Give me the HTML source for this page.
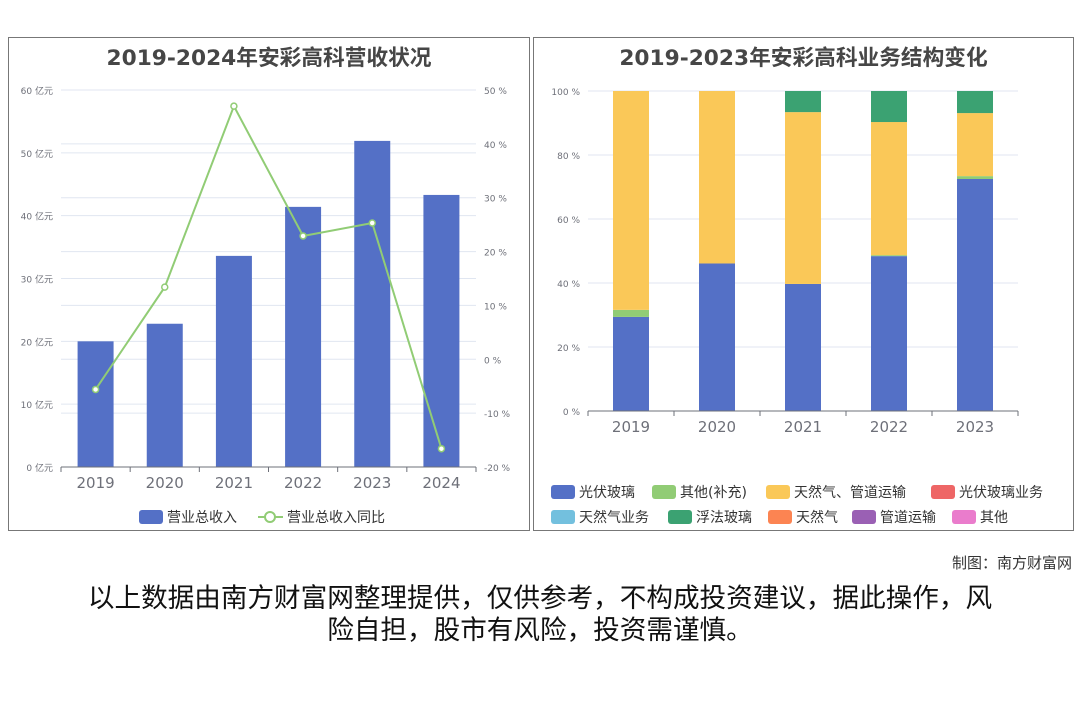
<!DOCTYPE html>
<html><head><meta charset="utf-8">
<style>
body{margin:0;width:1080px;height:720px;background:#fff;font-family:"Liberation Sans","Noto Sans CJK SC",sans-serif;overflow:hidden;position:relative}
.panel{position:absolute;border:1px solid #777;background:#fff}
.title{position:absolute;top:3px;left:0;right:0;text-align:center;font-weight:bold;font-size:21.7px;color:#464646;font-family:"DejaVu Sans","Noto Sans CJK SC",sans-serif}
svg{position:absolute;left:0;top:0}
.credit{position:absolute;right:8px;top:552px;font-size:15px;color:#333}
.disc{position:absolute;left:0;right:0;top:580px;text-align:center;font-size:26.6px;line-height:32px;color:#111;font-family:"Noto Sans CJK SC",sans-serif}
</style></head><body>
<div class="panel" style="left:8px;top:37px;width:520px;height:492px">
<div class="title">2019-2024年安彩高科营收状况</div>
</div>
<div class="panel" style="left:533px;top:37px;width:539px;height:492px">
<div class="title">2019-2023年安彩高科业务结构变化</div>
</div>
<svg id="chart" width="1080" height="720"></svg>
<div class="credit">制图：南方财富网</div>
<div class="disc">以上数据由南方财富网整理提供，仅供参考，不构成投资建议，据此操作，风<br>险自担，股市有风险，投资需谨慎。</div>
<script>
const years1=["2019","2020","2021","2022","2023","2024"];
const revenue=[20.0,22.8,33.6,41.4,51.9,43.3];
const growth=[-5.6,13.4,47.0,22.9,25.3,-16.6];
const leftTicks=[0,10,20,30,40,50,60];
const rightTicks=[-20,-10,0,10,20,30,40,50];
const years2=["2019","2020","2021","2022","2023"];
const seriesNames=["光伏玻璃","其他(补充)","天然气、管道运输","光伏玻璃业务","天然气业务","浮法玻璃","天然气","管道运输","其他"];
const sPV=[29.4,46.1,39.7,48.4,72.5];
const sOther=[2.2,0,0,0.3,0.9];
const sGas=[68.4,53.9,53.7,41.6,19.7];
const sFloat=[0,0,6.6,9.7,6.9];
const colors=["#5470c6","#91cc75","#fac858","#ee6666","#73c0de","#3ba272","#fc8452","#9a60b4","#ea7ccc"];
const svg=document.getElementById('chart');
const NS='http://www.w3.org/2000/svg';
function mk(tag,attrs,parent,name){const e=document.createElementNS(NS,tag);for(const k in attrs)e.setAttribute(k,attrs[k]);(parent||svg).appendChild(e);

return e;}
function txt(x,y,s,size,fill,anchor,name){const t=mk('text',{x:x,y:y,'font-size':size,fill:fill,'text-anchor':anchor||'middle','font-family':'DejaVu Sans, Noto Sans CJK SC, sans-serif'},svg,name);t.textContent=s;return t;}
const L={x0:61,x1:476,y0:467,y1:90};
const yL=v=>L.y0-(v/60)*(L.y0-L.y1);
const yR=v=>L.y0-((v+20)/70)*(L.y0-L.y1);
const cw=(L.x1-L.x0)/years1.length;
const xc=i=>L.x0+cw*(i+0.5);
leftTicks.forEach(t=>{mk('line',{x1:L.x0,x2:L.x1,y1:yL(t),y2:yL(t),stroke:'#e0e6f1'},svg,'left-grid-line');txt(L.x0-8,yL(t)+4,t+' 亿元',9,'#6e7079','end','left-y-tick');});
rightTicks.forEach(t=>{mk('line',{x1:L.x0,x2:L.x1,y1:yR(t),y2:yR(t),stroke:'#e0e6f1'},svg,'right-grid-line');txt(L.x1+8,yR(t)+4,t+' %',9,'#6e7079','start','right-y-tick');});
revenue.forEach((v,i)=>{mk('rect',{x:xc(i)-18,y:yL(v),width:36,height:L.y0-yL(v),fill:'#5470c6'},svg,'revenue-bar-'+years1[i]);});
mk('line',{x1:L.x0,x2:L.x1,y1:L.y0,y2:L.y0,stroke:'#6e7079'},svg,'left-x-axis');
years1.forEach((y,i)=>{mk('line',{x1:L.x0+cw*i,x2:L.x0+cw*i,y1:L.y0,y2:L.y0+5,stroke:'#6e7079'},svg,'x-tick');txt(xc(i),L.y0+21,y,15,'#6e7079','middle','x-label-'+y);});
mk('line',{x1:L.x0+cw*6,x2:L.x0+cw*6,y1:L.y0,y2:L.y0+5,stroke:'#6e7079'},svg,'x-tick');
mk('polyline',{points:growth.map((v,i)=>xc(i)+','+yR(v)).join(' '),fill:'none',stroke:'#91cc75','stroke-width':2},svg,'growth-line');
growth.forEach((v,i)=>mk('circle',{cx:xc(i),cy:yR(v),r:3,fill:'#fff',stroke:'#91cc75','stroke-width':1.5},svg,'growth-point-'+years1[i]));
mk('rect',{x:139,y:510,width:24,height:14,rx:3,fill:'#5470c6'},svg,'legend-revenue-swatch');
txt(167,522,'营业总收入',14,'#333','start','legend-revenue');
mk('line',{x1:258,x2:283,y1:517,y2:517,stroke:'#91cc75','stroke-width':2},svg,'legend-growth-line');
mk('circle',{cx:270,cy:517,r:5,fill:'#fff',stroke:'#91cc75','stroke-width':2},svg,'legend-growth-dot');
txt(287,522,'营业总收入同比',14,'#333','start','legend-growth');
const R={x0:588,x1:1018,y0:411,y1:91};
const yP=v=>R.y0-(v/100)*(R.y0-R.y1);
const cw2=(R.x1-R.x0)/years2.length;
const xc2=i=>R.x0+cw2*(i+0.5);
[0,20,40,60,80,100].forEach(t=>{mk('line',{x1:R.x0,x2:R.x1,y1:yP(t),y2:yP(t),stroke:'#e0e6f1'},svg,'right-chart-grid');txt(R.x0-8,yP(t)+4,t+' %',9,'#6e7079','end','pct-tick');});
const stacks=[[sPV,0],[sOther,1],[sGas,2],[sFloat,5]];
years2.forEach((y,i)=>{let acc=0;stacks.forEach(([arr,ci])=>{const v=arr[i];if(v>0){mk('rect',{x:xc2(i)-18,y:yP(acc+v),width:36,height:yP(acc)-yP(acc+v),fill:colors[ci]},svg,'stack-'+seriesNames[ci]+'-'+y);}acc+=v;});});
mk('line',{x1:R.x0,x2:R.x1,y1:R.y0,y2:R.y0,stroke:'#6e7079'},svg,'right-x-axis');
years2.forEach((y,i)=>{mk('line',{x1:R.x0+cw2*i,x2:R.x0+cw2*i,y1:R.y0,y2:R.y0+5,stroke:'#6e7079'},svg,'x-tick');txt(xc2(i),R.y0+21,y,15,'#6e7079','middle','x2-label-'+y);});
mk('line',{x1:R.x1,x2:R.x1,y1:R.y0,y2:R.y0+5,stroke:'#6e7079'},svg,'x-tick');
const legPos=[[551,485],[652,485],[766,485],[931,485],[551,510],[668,510],[768,510],[852,510],[952,510]];
seriesNames.forEach((n,i)=>{const [x,y]=legPos[i];mk('rect',{x:x,y:y,width:24,height:14,rx:3,fill:colors[i]},svg,'legend-swatch-'+i);txt(x+28,y+12,n,14,'#333','start','legend-'+n);});
</script>
</body></html>
